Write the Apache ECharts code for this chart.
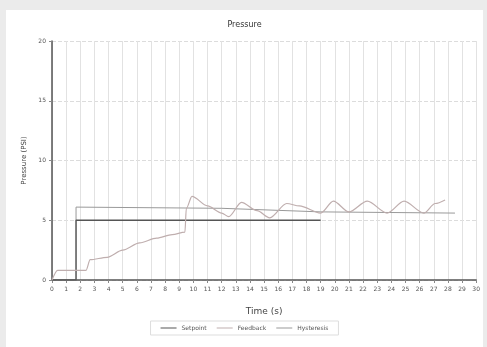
<!DOCTYPE html>
<html><head><meta charset="utf-8">
<script src="https://cdn.jsdelivr.net/npm/echarts@6/dist/echarts.min.js"></script>
<style>
html,body{margin:0;padding:0;background:#ebebeb;width:487px;height:347px;overflow:hidden;}
#c{position:absolute;left:6px;top:10px;width:477px;height:337px;background:#fff;}
</style></head>
<body><div id="c"></div>
<script>
const xTicks = [0,1,2,3,4,5,6,7,8,9,10,11,12,13,14,15,16,17,18,19,20,21,22,23,24,25,26,27,28,29,30];
const yTicks = [0,5,10,15,20];
const setpointTime = [0, 1.7, 1.7, 19];
const setpointValue = [0, 0, 5, 5];
const feedbackTime = [0,0.4,1.0,2.4,2.7,3.9,5,6.2,7.4,8.5,9.4,9.5,9.9,11,12,12.5,13.4,14.5,15.4,16.6,17.5,19,19.9,21,22.3,23.7,24.9,26.3,27.1,27.8];
const feedbackValue = [0,0.8,0.8,0.8,1.7,1.9,2.5,3.1,3.5,3.8,4.0,6.0,7.0,6.2,5.6,5.3,6.5,5.8,5.2,6.4,6.2,5.6,6.6,5.7,6.6,5.6,6.6,5.6,6.4,6.7];
const hystTime = [0, 1.7, 1.7, 12, 19, 28.5];
const hystValue = [0, 0, 6.1, 6.0, 5.7, 5.6];

const zip = (a, b) => a.map((t, i) => [t, b[i]]);
const chart = echarts.init(document.getElementById('c'));
chart.setOption({
  animation: false,
  backgroundColor: '#fff',
  title: { text: 'Pressure', left: 'center', top: 6, textStyle: { fontSize: 8, fontWeight: 'normal', color: '#333', fontFamily: 'DejaVu Sans' } },
  grid: { left: 46, right: 5, top: 31, bottom: 67 },
  legend: {
    bottom: 12, left: 'center', itemWidth: 16, itemHeight: 6, itemGap: 10,
    borderColor: '#ddd', borderWidth: 1, padding: [4, 10],
    textStyle: { fontSize: 6, color: '#555', fontFamily: 'DejaVu Sans' },
    icon: 'path://M0,0L16,0L16,1L0,1Z',
    data: ['Setpoint', 'Feedback', 'Hysteresis']
  },
  xAxis: {
    type: 'value', min: xTicks[0], max: xTicks[xTicks.length - 1], interval: 1,
    name: 'Time (s)', nameLocation: 'middle', nameGap: 27,
    nameTextStyle: { fontSize: 9, color: '#444', fontFamily: 'DejaVu Sans' },
    axisLine: { lineStyle: { color: '#555', width: 1.5 } },
    axisTick: { show: true, length: 3, lineStyle: { color: '#888' } },
    axisLabel: { fontSize: 6, color: '#555', margin: 6, fontFamily: 'DejaVu Sans' },
    splitLine: { show: true, lineStyle: { color: '#e2e2e2', width: 1 } }
  },
  yAxis: {
    type: 'value', min: yTicks[0], max: yTicks[yTicks.length - 1], interval: 5,
    name: 'Pressure (PSI)', nameLocation: 'middle', nameGap: 17, nameRotate: 90,
    nameTextStyle: { fontSize: 7, color: '#444', fontFamily: 'DejaVu Sans' },
    axisLine: { show: true, lineStyle: { color: '#555', width: 1.5 } },
    axisTick: { show: true, length: 3, lineStyle: { color: '#888' } },
    axisLabel: { fontSize: 6, color: '#555', margin: 6, fontFamily: 'DejaVu Sans' },
    splitLine: { show: true, lineStyle: { color: '#dcdcdc', type: 'dashed', width: 1 } }
  },
  series: [
    { name: 'Setpoint', type: 'line', showSymbol: false, data: zip(setpointTime, setpointValue),
      lineStyle: { color: '#555', width: 1.3 }, itemStyle: { color: '#555' }, z: 3 },
    { name: 'Feedback', type: 'line', showSymbol: false, data: zip(feedbackTime, feedbackValue),
      smooth: 0.3, smoothMonotone: 'x',
      lineStyle: { color: '#bfaeae', width: 1.2 }, itemStyle: { color: '#bfaeae' }, z: 4 },
    { name: 'Hysteresis', type: 'line', showSymbol: false, data: zip(hystTime, hystValue),
      lineStyle: { color: '#999', width: 1 }, itemStyle: { color: '#999' }, z: 2 }
  ]
});
</script></body></html>
